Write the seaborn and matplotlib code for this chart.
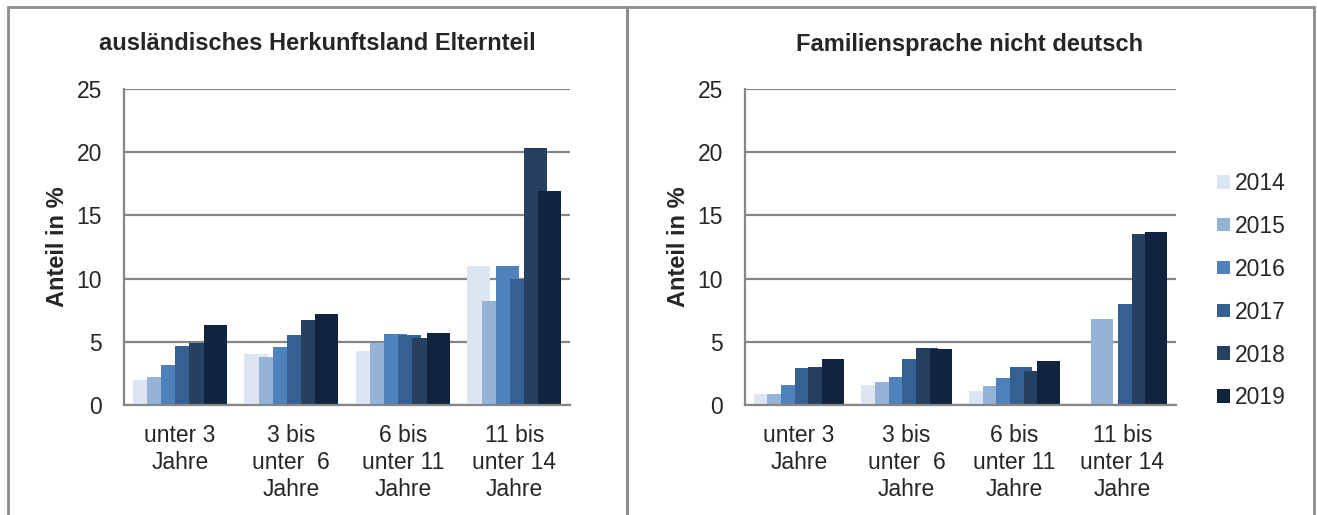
import seaborn as sns
import matplotlib.pyplot as plt
import pandas as pd
import numpy as np
from matplotlib.patches import Rectangle

# data
years = ["2014", "2015", "2016", "2017", "2018", "2019"]
groups = ["unter 3\nJahre", "3 bis\nunter  6\nJahre", "6 bis\nunter 11\nJahre", "11 bis\nunter 14\nJahre"]

herkunft_2014 = [2.0, 4.0, 4.3, 11.0]
herkunft_2015 = [2.2, 3.8, 4.9, 8.2]
herkunft_2016 = [3.2, 4.6, 5.6, 11.0]
herkunft_2017 = [4.7, 5.5, 5.5, 10.0]
herkunft_2018 = [4.9, 6.7, 5.3, 20.3]
herkunft_2019 = [6.3, 7.2, 5.7, 16.9]

sprache_2014 = [0.9, 1.6, 1.1, np.nan]
sprache_2015 = [0.9, 1.8, 1.5, 6.8]
sprache_2016 = [1.6, 2.2, 2.1, np.nan]
sprache_2017 = [2.9, 3.6, 3.0, 8.0]
sprache_2018 = [3.0, 4.5, 2.7, 13.5]
sprache_2019 = [3.6, 4.4, 3.5, 13.7]

colors = ["#dce6f2", "#95b3d7", "#4f81bd", "#366092", "#254061", "#11243f"]


def long_form(series):
    rows = []
    for year, vals in zip(years, series):
        for g, v in zip(groups, vals):
            if not np.isnan(v):
                rows.append({"Gruppe": g, "Jahr": year, "Anteil": v})
    return pd.DataFrame(rows)


df_left = long_form([herkunft_2014, herkunft_2015, herkunft_2016,
                     herkunft_2017, herkunft_2018, herkunft_2019])
df_right = long_form([sprache_2014, sprache_2015, sprache_2016,
                      sprache_2017, sprache_2018, sprache_2019])

sns.set_style("white")
plt.rcParams['font.family'] = ['Liberation Sans', 'DejaVu Sans']

fig = plt.figure(figsize=(13.17, 5.15), dpi=100)
ax1 = fig.add_axes([0.0942, 0.2136, 0.3386, 0.6136])
ax2 = fig.add_axes([0.5657, 0.2136, 0.3273, 0.6136])

grey = "#868686"
group_w = 0.76
step = group_w / 6
full_w = 0.207
fs = 16.5

for ax, df, legend in [(ax1, df_left, False), (ax2, df_right, True)]:
    sns.barplot(data=df, x="Gruppe", y="Anteil", hue="Jahr", order=groups,
                hue_order=years, palette=colors, errorbar=None, width=group_w,
                saturation=1, linewidth=0, legend=legend, ax=ax)
    # Excel style overlapping bars: later years drawn over earlier ones
    for p in ax.patches:
        p.set_x(p.get_x() - (full_w - step) / 2)
        p.set_width(full_w)
    ax.set_ylim(0, 25)
    ax.set_xlim(-0.5, 3.5)
    ax.set_yticks([0, 5, 10, 15, 20, 25])
    ax.yaxis.grid(True, color=grey, linewidth=1.6)
    ax.set_axisbelow(True)
    for s in ["top", "right"]:
        ax.spines[s].set_visible(False)
    for s in ["left", "bottom"]:
        ax.spines[s].set_color(grey)
        ax.spines[s].set_linewidth(1.6)
    ax.tick_params(axis="y", length=0, pad=16, labelsize=fs)
    ax.tick_params(axis="x", length=0, pad=14, labelsize=fs)
    for lbl in ax.get_xticklabels():
        lbl.set_linespacing(1.22)
    ax.set_xlabel("")
    ax.set_ylabel("Anteil in %", fontsize=17, fontweight="bold", labelpad=5)

sns.move_legend(ax2, loc="center left", bbox_to_anchor=(1.048, 0.362),
                frameon=False, title=None, fontsize=fs, labelspacing=0.87,
                handlelength=0.55, handleheight=0.55, handletextpad=0.2)

fig.text(317 / 1317, 1 - 44 / 515, "ausländisches Herkunftsland Elternteil",
         ha="center", va="center", fontsize=17, fontweight="bold")
fig.text(970 / 1317, 1 - 44 / 515, "Familiensprache nicht deutsch",
         ha="center", va="center", fontsize=17, fontweight="bold")

# panel frames
for x0, x1 in [(8, 627), (627, 1314)]:
    fig.add_artist(Rectangle((x0 / 1317, -0.1), (x1 - x0) / 1317, 1.1 - 7 / 515,
                             transform=fig.transFigure, fill=False,
                             edgecolor="#8c8c8c", linewidth=2))

fig.savefig("out.png", dpi=100)
